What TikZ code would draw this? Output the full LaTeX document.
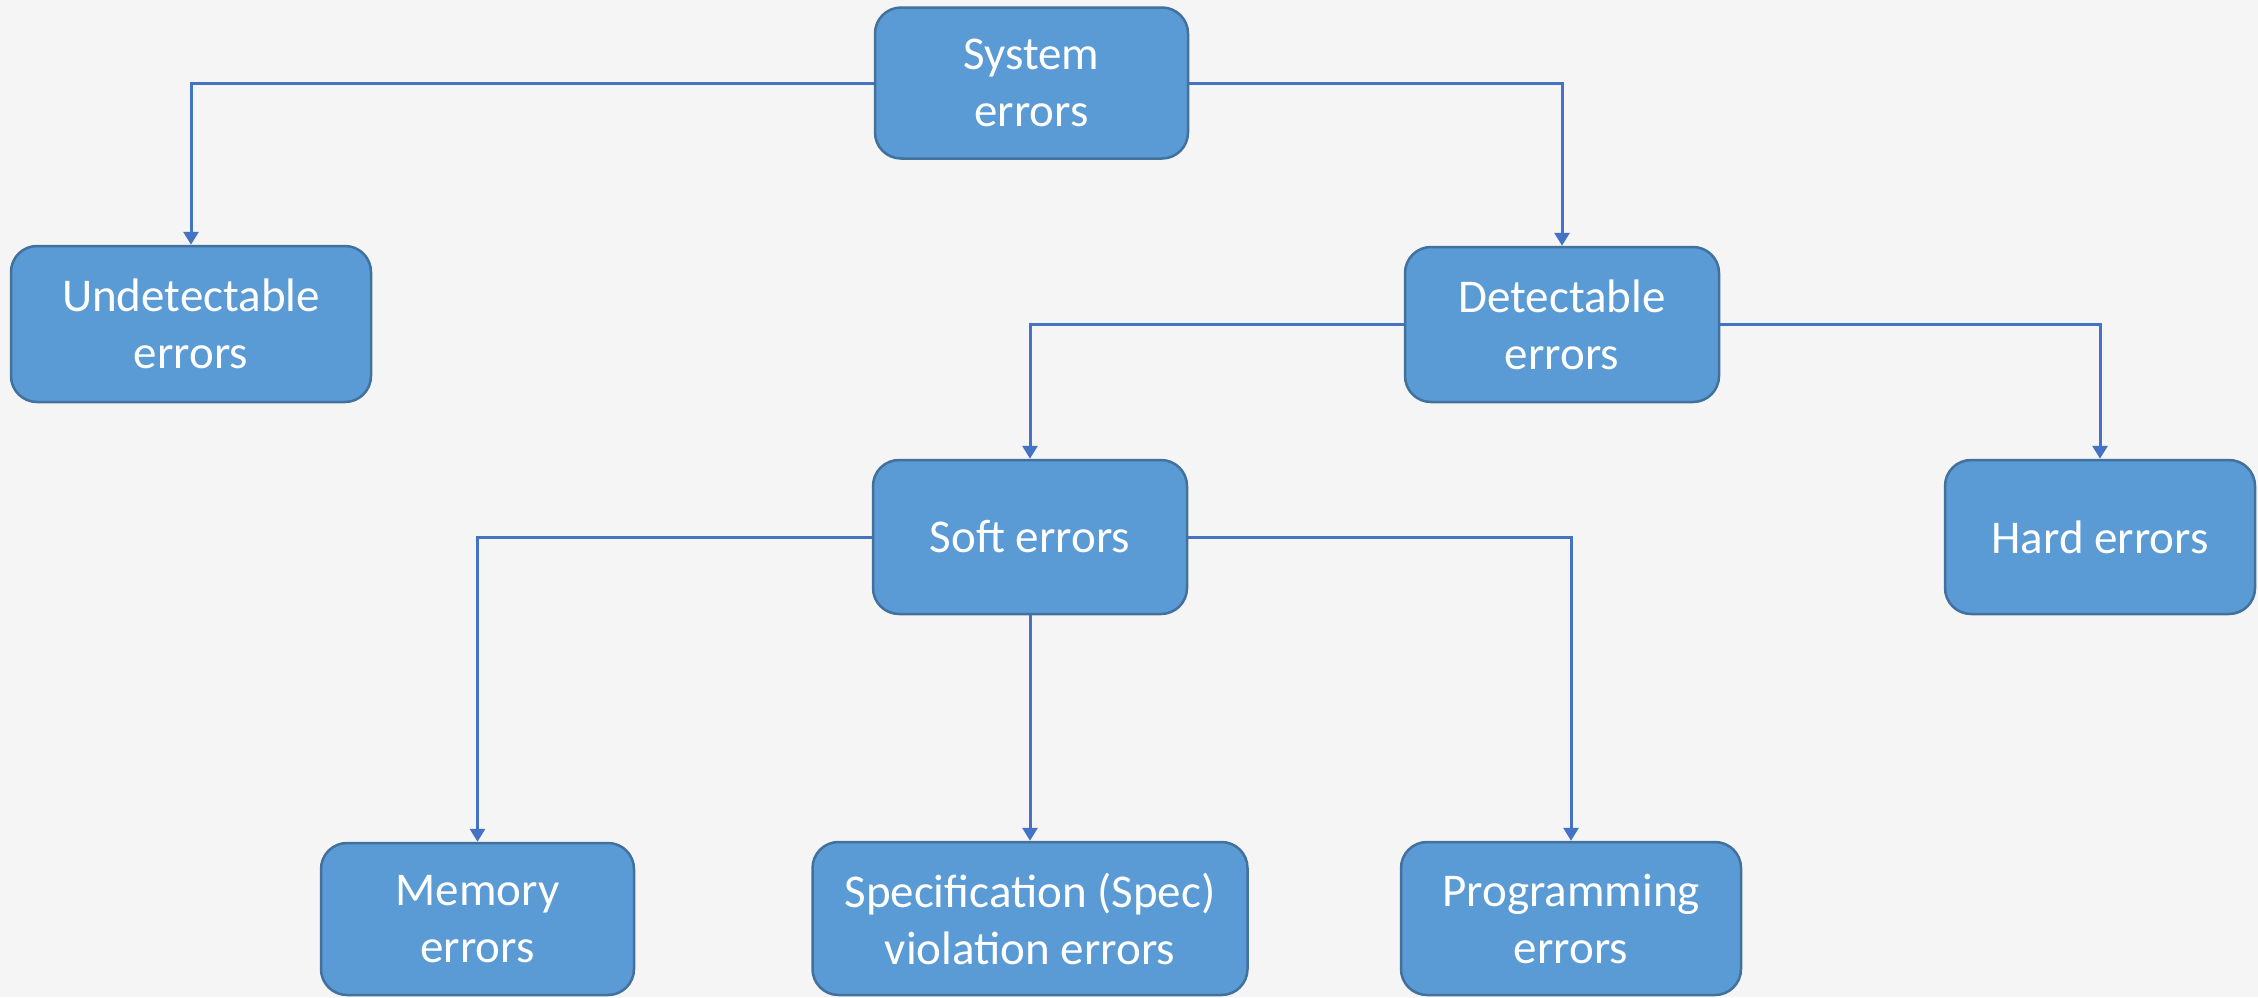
\documentclass[tikz,border=0pt]{standalone}
\usepackage{fontspec}
\setmainfont{Carlito}
\usetikzlibrary{arrows.meta}
\definecolor{bgc}{HTML}{F5F5F5}
\definecolor{boxfill}{HTML}{5B9BD5}
\definecolor{boxline}{HTML}{41719C}
\definecolor{linkc}{HTML}{4472C4}
\begin{document}
\begin{tikzpicture}[x=1pt,y=-1pt,
  box/.style={draw=boxline, line width=2.5pt, fill=boxfill, rounded corners=26pt,
    text=white, font=\fontsize{47}{57}\selectfont, align=center, inner sep=0pt},
  link/.style={draw=linkc, line width=3pt, -{Triangle[width=15pt,length=13pt]}}]
\fill[bgc] (0,0) rectangle (2258,997);
\useasboundingbox (0,0) rectangle (2258,997);

\node[box, minimum width=313pt, minimum height=151pt] (sys) at (1031.5,83) {System\\errors};
\node[box, minimum width=360pt, minimum height=156pt] (und) at (191,324) {Undetectable\\errors};
\node[box, minimum width=314pt, minimum height=155pt] (det) at (1562,324.5) {Detectable\\errors};
\node[box, minimum width=314pt, minimum height=154pt] (soft) at (1030,537) {Soft errors};
\node[box, minimum width=310pt, minimum height=154pt] (hard) at (2100,537) {Hard errors};
\node[box, minimum width=313pt, minimum height=152pt] (mem) at (477.5,919) {Memory\\errors};
\node[box, minimum width=435pt, minimum height=153pt] (spec) at (1030,918.5) {Specification (Spec)\\violation errors};
\node[box, minimum width=340pt, minimum height=153pt] (prog) at (1571,918.5) {Programming\\errors};

\draw[link] (sys.west) -| (und.north);
\draw[link] (sys.east) -| (det.north);
\draw[link] (det.west) -| (soft.north);
\draw[link] (det.east) -| (hard.north);
\draw[link] (soft.west) -| (mem.north);
\draw[link] (soft.south) -- (spec.north);
\draw[link] (soft.east) -| (prog.north);
\end{tikzpicture}
\end{document}
